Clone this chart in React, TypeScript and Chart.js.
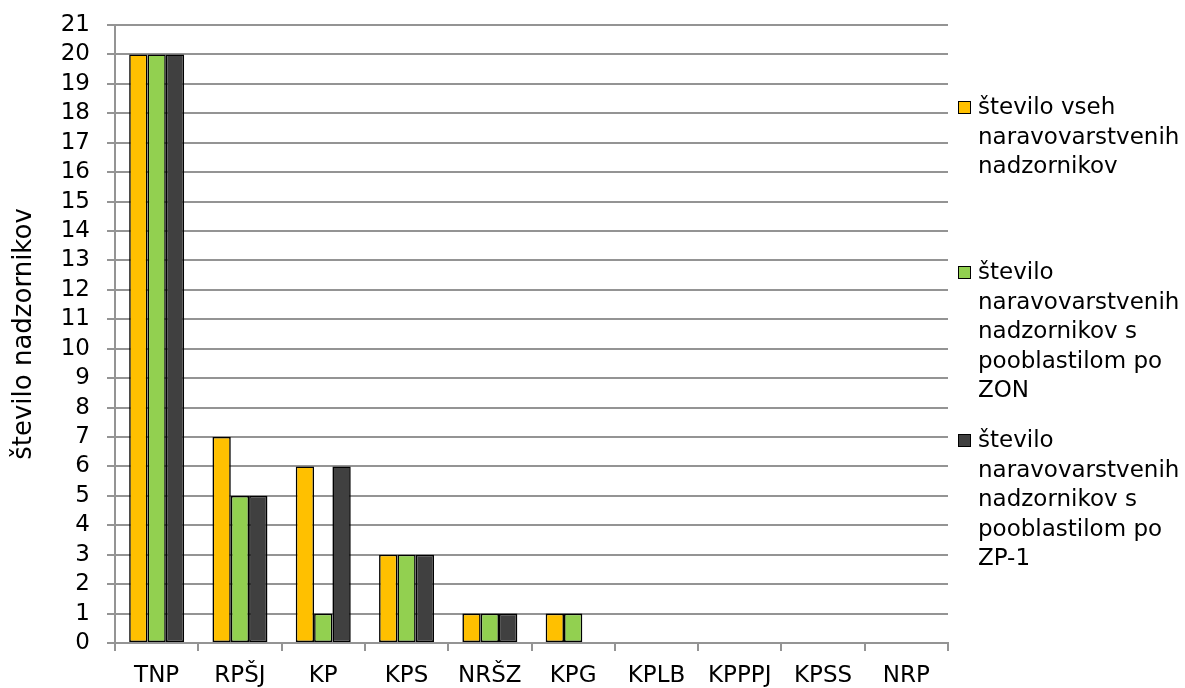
import React, { useEffect, useRef } from 'react';
import { Chart, registerables } from 'chart.js';

Chart.register(...registerables);

const categories = ['TNP', 'RPŠJ', 'KP', 'KPS', 'NRŠZ', 'KPG', 'KPLB', 'KPPPJ', 'KPSS', 'NRP'];
const allSupervisors = [20, 7, 6, 3, 1, 1, 0, 0, 0, 0];
const withZON = [20, 5, 1, 3, 1, 1, 0, 0, 0, 0];
const withZP1 = [20, 5, 6, 3, 1, 0, 0, 0, 0, 0];

const legendLines = [
  ['število vseh', 'naravovarstvenih', 'nadzornikov'],
  ['število', 'naravovarstvenih', 'nadzornikov s', 'pooblastilom po', 'ZON'],
  ['število', 'naravovarstvenih', 'nadzornikov s', 'pooblastilom po', 'ZP-1'],
];
const seriesLabels = legendLines.map((l) => l.join(' '));
const yTitle = 'število nadzornikov';
const yMin = 0;
const yMax = 21;
const yStep = 1;

const FONT_FAMILY = "'DejaVu Sans', sans-serif";
const FONT_SIZE = 23;
const GRID = '#949494';
const COLORS = ['#FFC000', '#92D050', '#404040'];

const legendPlugin = {
  id: 'sideLegend',
  afterDraw(chart: any) {
    const ctx = chart.ctx;
    const x0 = chart.chartArea.right + 10;
    const starts = [108, 273, 441];
    const lh = 29.6;
    ctx.save();
    ctx.font = `${FONT_SIZE}px ${FONT_FAMILY}`;
    ctx.textBaseline = 'middle';
    ctx.textAlign = 'left';
    chart.data.datasets.forEach((ds: any, i: number) => {
      const y = starts[i];
      ctx.fillStyle = ds.backgroundColor;
      ctx.fillRect(x0, y - 7, 13, 13);
      ctx.strokeStyle = '#000';
      ctx.lineWidth = 1;
      ctx.strokeRect(x0 + 0.5, y - 6.5, 12, 12);
      ctx.fillStyle = '#000';
      legendLines[i].forEach((t, j) => {
        ctx.fillText(t, x0 + 20, y + j * lh);
      });
    });
    ctx.restore();
  },
};

export default function App() {
  const ref = useRef<HTMLCanvasElement>(null);

  useEffect(() => {
    if (!ref.current) return;
    const font = { family: FONT_FAMILY, size: FONT_SIZE };
    const series = [allSupervisors, withZON, withZP1];
    const chart = new Chart(ref.current, {
      type: 'bar',
      data: {
        labels: categories,
        datasets: series.map((d, i) => ({
          label: seriesLabels[i],
          data: d,
          backgroundColor: COLORS[i],
          borderColor: '#000',
          borderWidth: (c: any) => (c.raw === 0 ? 0 : 1.6),
          borderSkipped: false,
          categoryPercentage: 0.66,
          barPercentage: 1,
        })),
      },
      options: {
        animation: false,
        responsive: true,
        maintainAspectRatio: false,
        layout: { padding: { top: 25, right: 237, bottom: 0, left: 0 } },
        plugins: { legend: { display: false }, tooltip: { enabled: false } },
        scales: {
          x: {
            grid: { offset: true, drawOnChartArea: false, drawTicks: true, tickLength: 8, color: GRID, lineWidth: 2 },
            border: { color: GRID, width: 2 },
            ticks: { font, color: '#000', padding: 11, maxRotation: 0, autoSkip: false },
            afterFit: (s: any) => {
              s.height = 45;
            },
          },
          y: {
            min: yMin,
            max: yMax,
            ticks: { stepSize: yStep, font, color: '#000', padding: 17, autoSkip: false },
            grid: { color: GRID, lineWidth: 2, tickLength: 8 },
            border: { color: GRID, width: 2 },
            title: {
              display: true,
              text: yTitle,
              font: { family: FONT_FAMILY, size: 26 },
              color: '#000',
              padding: { top: 9, bottom: 0 },
            },
            afterFit: (s: any) => {
              s.width = 115;
              s.paddingTop = 0;
              s.paddingBottom = 0;
            },
          },
        },
      },
      plugins: [legendPlugin],
    } as any);
    return () => chart.destroy();
  }, []);

  return (
    <div style={{ position: 'fixed', left: 0, top: 0, width: 1185, height: 688, background: '#fff' }}>
      <canvas ref={ref} />
    </div>
  );
}
